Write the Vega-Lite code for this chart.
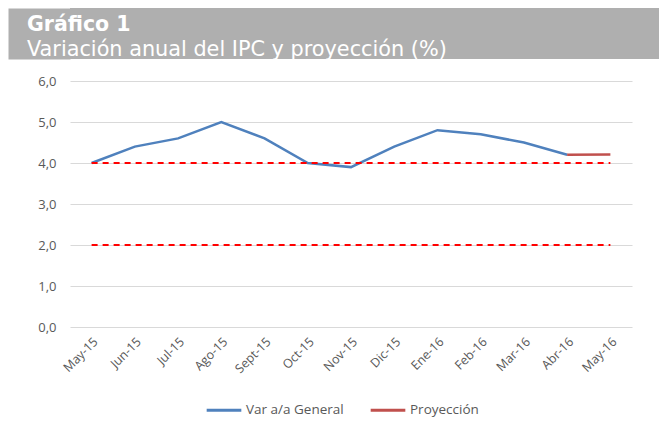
{
  "$schema": "https://vega.github.io/schema/vega-lite/v6.json",
  "background": "white",
  "padding": {"left": 8, "top": 8, "right": 0, "bottom": 0},
  "config": {"view": {"stroke": null}},
  "datasets": {
    "ipc": [
      {"mes": "May-15", "serie": "Var a/a General", "valor": 4.0},
      {"mes": "Jun-15", "serie": "Var a/a General", "valor": 4.4},
      {"mes": "Jul-15", "serie": "Var a/a General", "valor": 4.6},
      {"mes": "Ago-15", "serie": "Var a/a General", "valor": 5.0},
      {"mes": "Sept-15", "serie": "Var a/a General", "valor": 4.6},
      {"mes": "Oct-15", "serie": "Var a/a General", "valor": 4.0},
      {"mes": "Nov-15", "serie": "Var a/a General", "valor": 3.9},
      {"mes": "Dic-15", "serie": "Var a/a General", "valor": 4.4},
      {"mes": "Ene-16", "serie": "Var a/a General", "valor": 4.8},
      {"mes": "Feb-16", "serie": "Var a/a General", "valor": 4.7},
      {"mes": "Mar-16", "serie": "Var a/a General", "valor": 4.5},
      {"mes": "Abr-16", "serie": "Var a/a General", "valor": 4.2},
      {"mes": "Abr-16", "serie": "Proyección", "valor": 4.2},
      {"mes": "May-16", "serie": "Proyección", "valor": 4.21}
    ],
    "meta": [
      {"mes": "May-15", "fin": "May-16", "valor": 4},
      {"mes": "May-15", "fin": "May-16", "valor": 2}
    ],
    "cabecera": [
      {"v": 0}
    ]
  },
  "vconcat": [
    {
      "width": 589,
      "height": 51,
      "view": {"fill": "#afafaf", "stroke": null},
      "title": {
        "text": "Gráfico 1",
        "subtitle": "Variación anual del IPC y proyección (%)",
        "anchor": "start",
        "frame": "group",
        "orient": "top",
        "offset": -52,
        "dx": -43,
        "font": "DejaVu Sans",
        "fontSize": 20.5,
        "fontWeight": "bold",
        "color": "white",
        "subtitleFont": "DejaVu Sans",
        "subtitleFontSize": 20.8,
        "subtitleFontWeight": "normal",
        "subtitleColor": "white",
        "subtitlePadding": 5
      },
      "data": {"name": "cabecera"},
      "mark": {"type": "point", "opacity": 0},
      "encoding": {
        "y": {
          "field": "v",
          "type": "quantitative",
          "axis": {
            "title": null,
            "labels": false,
            "ticks": false,
            "grid": false,
            "domain": true,
            "domainColor": "#afafaf",
            "domainWidth": 62,
            "domainCap": "butt",
            "offset": 31,
            "minExtent": 31,
            "maxExtent": 31
          }
        }
      }
    },
    {
      "width": 562,
      "height": 246,
      "layer": [
        {
          "data": {"name": "ipc"},
          "mark": {"type": "line", "strokeWidth": 2.5},
          "encoding": {
            "x": {
              "field": "mes",
              "type": "ordinal",
              "scale": {"domain": ["May-15", "Jun-15", "Jul-15", "Ago-15", "Sept-15", "Oct-15", "Nov-15", "Dic-15", "Ene-16", "Feb-16", "Mar-16", "Abr-16", "May-16"]},
              "axis": {
                "title": null,
                "labelAngle": -45,
                "labelAlign": "right",
                "labelBaseline": "top",
                "labelPadding": 8,
                "domain": false,
                "ticks": false,
                "grid": false,
                "labelFont": "Open Sans",
                "labelFontSize": 12.5,
                "labelColor": "#595959"
              }
            },
            "y": {
              "field": "valor",
              "type": "quantitative",
              "scale": {"domain": [0, 6]},
              "axis": {
                "title": null,
                "values": [0, 1, 2, 3, 4, 5, 6],
                "labelExpr": "replace(format(datum.value, '.1f'), '.', ',')",
                "domain": false,
                "ticks": false,
                "grid": true,
                "gridColor": "#d9d9d9",
                "gridWidth": 1.2,
                "labelPadding": 14,
                "minExtent": 62,
                "maxExtent": 62,
                "labelFont": "Open Sans",
                "labelFontSize": 13,
                "labelColor": "#595959"
              }
            },
            "color": {
              "field": "serie",
              "type": "nominal",
              "scale": {"domain": ["Var a/a General", "Proyección"], "range": ["#4F81BD", "#C0504D"]},
              "legend": {
                "title": null,
                "orient": "none",
                "direction": "horizontal",
                "legendX": 135,
                "legendY": 383,
                "symbolType": "stroke",
                "symbolSize": 1200,
                "symbolStrokeWidth": 3,
                "labelOffset": 3,
                "columnPadding": 20,
                "labelFont": "Open Sans",
                "labelFontSize": 13.5,
                "labelColor": "#595959"
              }
            }
          }
        },
        {
          "data": {"name": "meta"},
          "mark": {"type": "rule", "color": "#FF0000", "strokeWidth": 2, "strokeDash": [6, 5]},
          "encoding": {
            "x": {"field": "mes", "type": "ordinal"},
            "x2": {"field": "fin"},
            "y": {"field": "valor", "type": "quantitative"}
          }
        }
      ]
    }
  ],
  "spacing": 15
}
